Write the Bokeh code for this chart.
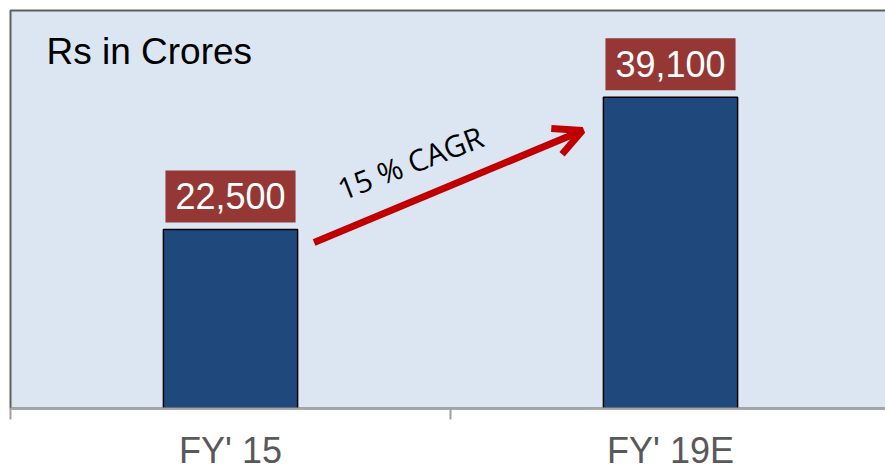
from bokeh.plotting import figure
from bokeh.models import (Range1d, FixedTicker, Label, Arrow, OpenHead, ColumnDataSource)
from bokeh.embed import file_html
from bokeh.resources import INLINE

# ---- data ----
categories = ["FY' 15", "FY' 19E"]
values = [22500, 39100]
value_labels = ["22,500", "39,100"]
cagr_text = "15 % CAGR"
unit_text = "Rs in Crores"
y_max = 50000

# ---- styles ----
BG = "#DCE6F2"
BAR = "#1F497D"
BOX = "#953735"
ARROW = "#C00000"
FONT = "Liberation Sans"

xs = [i + 0.5 for i in range(len(categories))]
src = ColumnDataSource(dict(x=xs, top=values, cat=categories))

p = figure(frame_width=880, frame_height=398, output_backend="svg", toolbar_location=None,
           x_range=Range1d(0, len(categories)), y_range=Range1d(0, y_max),
           min_border_left=10, min_border_top=10, min_border_right=0, min_border_bottom=0)
p.background_fill_color = BG
p.border_fill_color = "white"
p.outline_line_color = "#5f5f5f"
p.outline_line_width = 2
p.grid.visible = False
p.yaxis.visible = False

p.vbar(x="x", top="top", width=0.305, bottom=0, source=src,
       fill_color=BAR, line_color="black", line_width=1.5)

ax = p.xaxis[0]
ax.ticker = FixedTicker(ticks=xs, minor_ticks=list(range(len(categories) + 1)))
ax.major_label_overrides = {x: c for x, c in zip(xs, categories)}
ax.major_tick_line_color = None
ax.major_tick_out = 0
ax.major_tick_in = 0
ax.minor_tick_line_color = "#A0A0A0"
ax.minor_tick_line_width = 2
ax.minor_tick_out = 11
ax.minor_tick_in = 0
ax.axis_line_color = "#A6A6A6"
ax.axis_line_width = 2
ax.major_label_standoff = 10
ax.major_label_text_font = FONT
ax.major_label_text_font_size = "36px"
ax.major_label_text_color = "#595959"

for x, v, t in zip(xs, values, value_labels):
    p.add_layout(Label(x=x, y=v, y_offset=33, text=t, text_align="center",
                       text_baseline="middle", text_font=FONT, text_font_size="36px",
                       text_color="white", background_fill_color=BOX,
                       padding=dict(left=10, right=10, top=13, bottom=13)))

# CAGR arrow between the bars
ax0, ay0 = xs[0] + 0.19, values[0] * 0.927
ax1, ay1 = xs[1] - 0.20, values[1] * 0.893
p.add_layout(Arrow(x_start=ax0, y_start=ay0, x_end=ax1, y_end=ay1,
                   line_color=ARROW, line_width=7,
                   end=OpenHead(size=28, line_color=ARROW, line_width=7)))
p.add_layout(Label(x=(ax0 + ax1) / 2, y=(ay0 + ay1) / 2, x_offset=-38, y_offset=24,
                   text=cagr_text, angle=21, angle_units="deg", text_align="center",
                   text_baseline="middle", text_font="Open Sans", text_font_size="30px",
                   text_color="black"))

p.add_layout(Label(x=0, y=y_max, x_offset=36, y_offset=-41, text=unit_text,
                   text_align="left", text_baseline="alphabetic", text_font=FONT,
                   text_font_size="37px", text_color="black"))

open("out.html", "w").write(file_html(p, INLINE))
